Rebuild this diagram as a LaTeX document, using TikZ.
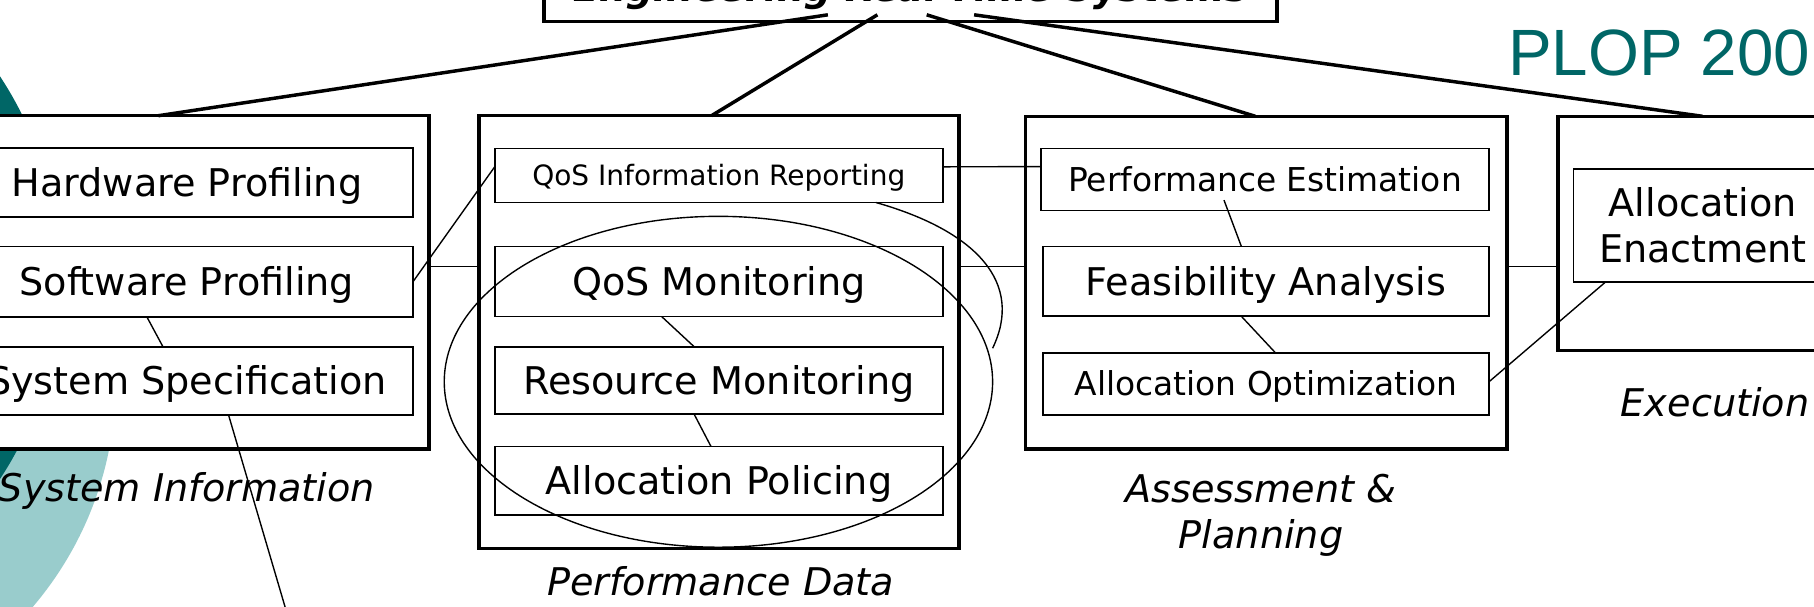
\documentclass[tikz,border=0pt]{standalone}
\usepackage{fontspec}
\setmainfont{DejaVu Sans}
\newfontfamily\plopfont{Liberation Sans}
\usetikzlibrary{calc,shapes.geometric}
\definecolor{tealdark}{RGB}{0,102,102}
\definecolor{teallight}{RGB}{153,204,204}
\newcommand\mainsz{\fontsize{16.5pt}{19.75pt}\selectfont}
\newcommand\smallsz{\fontsize{12.1pt}{14.5pt}\selectfont}
\newcommand\midsz{\fontsize{14.2pt}{17pt}\selectfont}
\begin{document}
\begin{tikzpicture}[x=0.5pt,y=-0.5pt,
  obox/.style={draw, rectangle, line width=1.5pt, fill=white, inner sep=0pt, outer sep=0pt},
  ibox/.style={draw, rectangle, line width=0.7pt, fill=white, inner sep=0pt, outer sep=0pt,
               font=\mainsz, text height=12pt, text depth=0pt},
  thickconn/.style={line width=1.5pt},
  conn/.style={line width=0.6pt},
  lab/.style={inner sep=0pt, outer sep=0pt, font=\mainsz\itshape}]
\useasboundingbox (0,0) rectangle (1568,524);
\clip (0,0) rectangle (1568,524);

% background decoration
\fill[teallight] (-200,330) circle[radius=150pt];
\fill[tealdark] (-265,240) circle[radius=158.5pt];

% title
\node[draw, rectangle, line width=1.6pt, fill=white, inner sep=0pt, outer sep=0pt,
      minimum width=317pt, minimum height=39.5pt, text height=22.5pt, text depth=0pt,
      font=\mainsz\bfseries\itshape] (title) at (787,-21) {Engineering Real-Time Systems};

% outer boxes
\node[obox, minimum width=209.5pt, minimum height=144pt] (si) at (161.5,244) {};
\node[obox, minimum width=207.5pt, minimum height=187pt] (pd) at (621.5,287) {};
\node[obox, minimum width=208pt, minimum height=143.75pt] (ap) at (1094.5,244.25) {};
\node[obox, minimum width=125.5pt, minimum height=101.25pt] (ex) at (1472,201.75) {};

% System Information
\node[ibox, minimum width=195.5pt, minimum height=29.8pt] (hw) at (161.5,157.8) {Hardware Profiling};
\node[ibox, minimum width=195.5pt, minimum height=30.5pt] (sw) at (161.5,243.5) {Software Profiling};
\node[ibox, minimum width=195.5pt, minimum height=29.25pt] (ss) at (161.5,329.25) {System Specification};

% Performance Data
\node[ibox, minimum width=193.7pt, minimum height=23.4pt, font=\smallsz, text height=8.8pt] (qir) at (621.3,151.6) {QoS Information Reporting};
\node[ibox, minimum width=193.5pt, minimum height=30.35pt] (qm) at (621.5,243.35) {QoS Monitoring};
\node[ibox, minimum width=193.5pt, minimum height=29.15pt] (rm) at (621.5,328.85) {Resource Monitoring};
\node[ibox, minimum width=193.5pt, minimum height=29.5pt] (apol) at (621.5,415.5) {Allocation Policing};

% Assessment & Planning
\node[ibox, minimum width=193.5pt, minimum height=26.75pt, font=\midsz, text height=10.35pt] (pe) at (1093.5,155.25) {Performance Estimation};
\node[ibox, minimum width=192.75pt, minimum height=30.2pt] (fa) at (1094.25,243.2) {Feasibility Analysis};
\node[ibox, minimum width=192.75pt, minimum height=26.75pt, font=\midsz, text height=10.35pt] (ao) at (1094.25,331.75) {Allocation Optimization};

% Execution
\node[draw, rectangle, line width=0.7pt, fill=white, inner sep=0pt, outer sep=0pt,
      minimum width=112pt, minimum height=49pt, align=center,
      font=\fontsize{16.5pt}{20pt}\selectfont] (ae) at (1472,195) {Allocation\\Enactment};

% connectors from title
\draw[thickconn] ($(title.south west)+(245.6,-5.7)$) -- ($(si.north west)+(185,0)$);
\draw[thickconn] ($(title.south west)+(288.4,-5.7)$) -- ($(pd.north west)+(201,0)$);
\draw[thickconn] ($(title.south west)+(331,-5.7)$) -- ($(ap.north west)+(198.5,0)$);
\draw[thickconn] ($(title.south west)+(372,-5.7)$) -- ($(ex.north west)+(125,0)$);

% connectors between groups
\draw[conn] ($(si.north east)+(0,130.5)$) -- ($(pd.north west)+(0,130.5)$);
\draw[conn] ($(pd.north east)+(0,130.5)$) -- ($(ap.north west)+(0,130)$);
\draw[conn] ($(ap.north east)+(0,130)$) -- ($(ex.north west)+(0,130)$);

% inner connectors
\coordinate (ssend) at (248,530);
\draw[conn] ($(sw.south west)+(161,0)$) -- ($(ss.north west)+(175,0)$);
\draw[conn] ($(ss.south west)+(231.5,0)$) -- (ssend);
\draw[conn] (sw.east) -- ($(qir.north west)+(0,16)$);
\draw[conn] ($(qir.north east)+(0,16)$) -- ($(pe.north west)+(0,15.5)$);
\draw[conn] ($(qm.south west)+(144,0)$) -- ($(rm.north west)+(172,0)$);
\draw[conn] ($(rm.south west)+(172,0)$) -- ($(apol.north west)+(186.6,0)$);
\draw[conn] ($(pe.south west)+(158,-9)$) -- ($(fa.north west)+(171.5,0)$);
\draw[conn] ($(fa.south west)+(171.5,0)$) -- ($(ao.north west)+(201,0)$);
\draw[conn] ($(ao.east)+(0,-1.7)$) -- ($(ae.south west)+(27.5,0)$);

% monitoring ellipse and curve
\node[draw, ellipse, line width=0.6pt, minimum width=237pt, minimum height=143pt,
      inner sep=0pt, outer sep=0pt] (mon) at (621,330) {};
\draw[conn] ($(qir.south west)+(329.4,0)$) .. controls (845,200) and (885,245) .. ($(mon.east)+(0,-29)$);

% group labels
\node[lab, anchor=base] (silab) at (161.5,433.4) {System Information};
\node[lab, anchor=base] (pdlab) at (623,515) {Performance Data};
\node[lab, anchor=base] (aplab) at (1090,434.2) {\begin{tabular}[t]{@{}c@{}}Assessment \&\\Planning\end{tabular}};
\node[lab, anchor=base] (exlab) at (1482.5,360) {Execution};

% conference mark
\node[anchor=base west, inner sep=0pt, outer sep=0pt, text=tealdark,
      font=\plopfont\fontsize{28.3pt}{34pt}\selectfont] (plop) at (1303.5,65) {PLOP 200};
\end{tikzpicture}
\end{document}
